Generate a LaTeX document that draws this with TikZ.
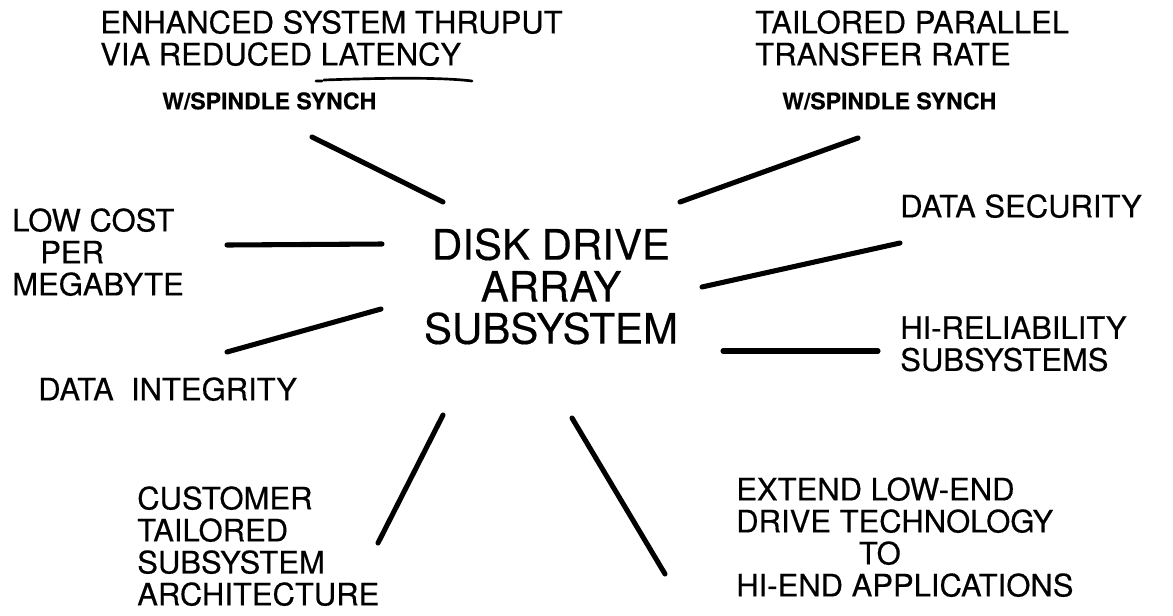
\documentclass[tikz,border=0pt]{standalone}
\usepackage{fontspec}
\setmainfont{TeX Gyre Heros}[FakeBold=0.4]
\usetikzlibrary{positioning}

\begin{document}
\begin{tikzpicture}[
        x=0.75pt, y=-0.75pt,
        spoke/.style={line width=3.8pt, line cap=round},
        feature/.style={inner sep=0pt, anchor=north west, align=left, font=\fontsize{23.25}{24}\selectfont},
        sync_note/.style={inner sep=0pt, anchor=north west, font=\bfseries\fontsize{17.25}{20}\selectfont},
        hub_label/.style={inner sep=0pt, anchor=north, align=center, font=\fontsize{31.5}{31.5}\selectfont}
    ]
    \useasboundingbox (0,0) rectangle (1173,615);

    % ========================================================
    % CENTRE
    % ========================================================
    \node[hub_label] (hub) at (551,228) {DISK DRIVE\\ARRAY\\SUBSYSTEM};

    % ========================================================
    % FEATURES ROUND THE CENTRE
    % ========================================================
    \node[feature] (thruput) at (100,10) {ENHANCED SYSTEM THRUPUT\\VIA REDUCED LATENCY};
    \node[sync_note] (thruput_sync) at (162,92) {W/SPINDLE SYNCH};

    \node[feature] (transfer) at (755,10) {TAILORED PARALLEL\\TRANSFER RATE};
    \node[sync_note] (transfer_sync) at (782,92) {W/SPINDLE SYNCH};

    \node[feature] (cost) at (12,208) {LOW COST\\\hspace*{21pt}PER\\MEGABYTE};
    \node[feature] (integrity) at (38,377) {DATA\ \ INTEGRITY};

    \node[feature] (security) at (900,194) {DATA SECURITY};
    \node[feature] (reliability) at (900,316) {HI-RELIABILITY\\SUBSYSTEMS};

    \node[feature] (custom) at (137,486) {CUSTOMER\\TAILORED\\SUBSYSTEM\\ARCHITECTURE};
    \node[feature] (extend) at (736,477) {EXTEND LOW-END\\DRIVE TECHNOLOGY\\\hspace*{92pt}TO\\HI-END APPLICATIONS};

    % hand drawn underline
    \draw[line width=2pt, line cap=round] (316,81) -- (322,81) (324,80) .. controls (380,78) and (440,77) .. (472,81);

    % ========================================================
    % SPOKES
    % ========================================================
    \coordinate (thruput_out) at (312,137);  \coordinate (thruput_in) at (443,202);
    \coordinate (transfer_out) at (858,138); \coordinate (transfer_in) at (680,202);
    \coordinate (cost_out) at (227,245);     \coordinate (cost_in) at (382,244);
    \coordinate (security_out) at (900,243); \coordinate (security_in) at (702,287);
    \coordinate (integrity_out) at (227,352); \coordinate (integrity_in) at (381,309);
    \coordinate (reliability_out) at (878,351); \coordinate (reliability_in) at (723,351);
    \coordinate (custom_out) at (378,543);   \coordinate (custom_in) at (443,415);
    \coordinate (extend_out) at (665,574);   \coordinate (extend_in) at (572,418);

    \foreach \f in {thruput, transfer, cost, security, integrity, reliability, custom, extend}
        \draw[spoke] (\f_in) -- (\f_out);

\end{tikzpicture}
\end{document}
